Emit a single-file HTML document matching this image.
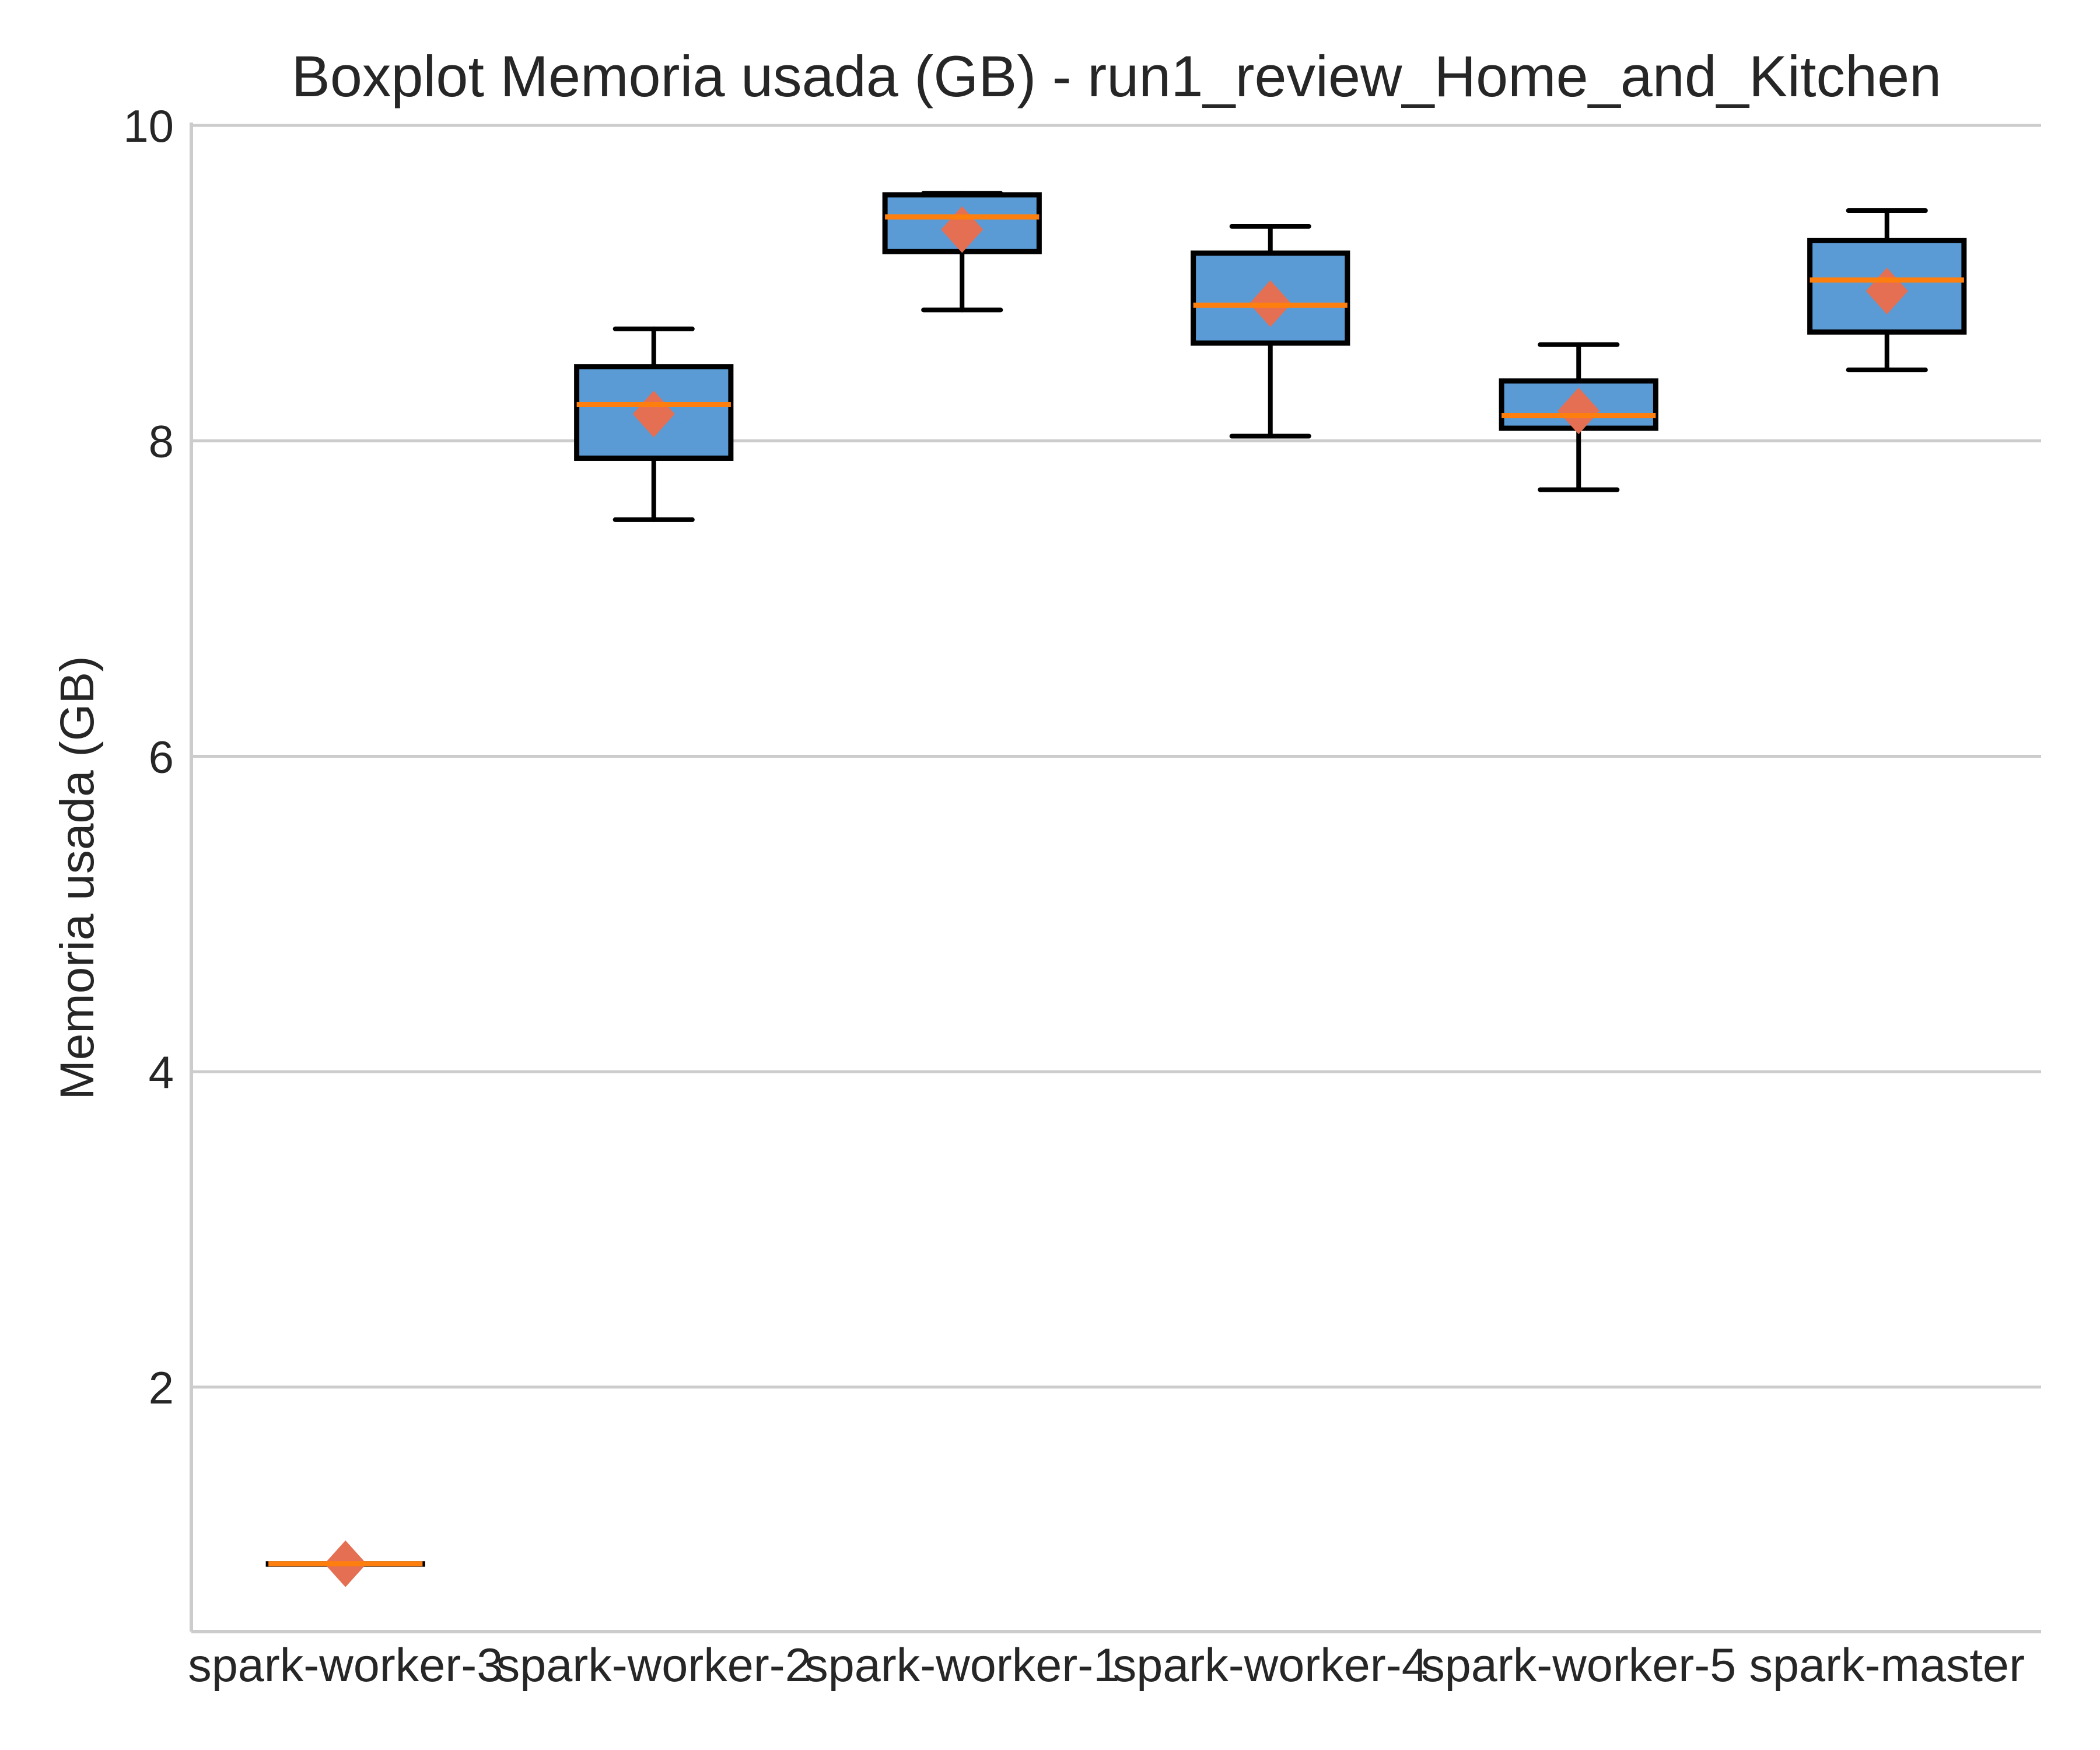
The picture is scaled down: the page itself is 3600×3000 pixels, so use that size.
<!DOCTYPE html>
<html><head><meta charset="utf-8"><style>
html,body{margin:0;padding:0;background:#fff}
svg{display:block}
text{font-family:"Liberation Sans",Arial,sans-serif;fill:#262626}
</style></head><body>
<svg id="chart" width="3600" height="3000" viewBox="0 0 3600 3000">
<text x="1914" y="165" font-size="99" text-anchor="middle">Boxplot Memoria usada (GB) - run1_review_Home_and_Kitchen</text>
<text transform="translate(160,1505) rotate(-90)" font-size="82" text-anchor="middle">Memoria usada (GB)</text>
<g id="grid"></g>
<g id="axes"></g>
<g id="boxes"></g>
<g id="xlabels"></g>
</svg>
<script>
const categories = ["spark-worker-3","spark-worker-2","spark-worker-1","spark-worker-4","spark-worker-5","spark-master"];
const whiskerLow = [0.88, 7.50, 8.83, 8.03, 7.69, 8.45];
const q1 = [0.88, 7.89, 9.20, 8.62, 8.08, 8.69];
const medians = [0.88, 8.23, 9.42, 8.86, 8.16, 9.02];
const q3 = [0.88, 8.47, 9.56, 9.19, 8.38, 9.27];
const whiskerHigh = [0.88, 8.71, 9.57, 9.36, 8.61, 9.46];
const means = [0.88, 8.17, 9.34, 8.87, 8.19, 8.95];
const yTicks = [2, 4, 6, 8, 10];
const yMin = 0.45, yMax = 10;

const NS = "http://www.w3.org/2000/svg";
const L = 328, R = 3499, T = 215, B = 2797;
const y = v => T + (yMax - v) * (B - T) / (yMax - yMin);
const x = i => L + (i + 0.5) * (R - L) / categories.length;
const halfBox = 0.25 * (R - L) / categories.length;
function mk(parent, tag, attrs) {
  const e = document.createElementNS(NS, tag);
  for (const k in attrs) e.setAttribute(k, attrs[k]);
  parent.appendChild(e);
  return e;
}
const grid = document.getElementById('grid');
yTicks.forEach(t => {
  const g = mk(grid, 'line', {x1: L, x2: R, y1: y(t), y2: y(t), stroke: '#cccccc', 'stroke-width': 5});
  
  
  const tx = mk(grid, 'text', {x: 298, y: y(t) + 28, 'font-size': 78, 'text-anchor': 'end'});
  tx.textContent = t;
  
  
});
const axes = document.getElementById('axes');
const la = mk(axes, 'line', {x1: L, x2: L, y1: T - 5, y2: B, stroke: '#cccccc', 'stroke-width': 6});


const ba = mk(axes, 'line', {x1: L, x2: R, y1: B, y2: B, stroke: '#cccccc', 'stroke-width': 6});



const boxes = document.getElementById('boxes');
const xl = document.getElementById('xlabels');
categories.forEach((c, i) => {
  const cx = x(i);
  const g = mk(boxes, 'g', {});
  
  
  const ws = {stroke: '#000', 'stroke-width': 8, 'stroke-linecap': 'round'};
  mk(g, 'line', Object.assign({x1: cx, x2: cx, y1: y(whiskerHigh[i]), y2: y(q3[i])}, ws));
  mk(g, 'line', Object.assign({x1: cx, x2: cx, y1: y(q1[i]), y2: y(whiskerLow[i])}, ws));
  mk(g, 'line', Object.assign({x1: cx - halfBox / 2, x2: cx + halfBox / 2, y1: y(whiskerHigh[i]), y2: y(whiskerHigh[i])}, ws));
  mk(g, 'line', Object.assign({x1: cx - halfBox / 2, x2: cx + halfBox / 2, y1: y(whiskerLow[i]), y2: y(whiskerLow[i])}, ws));
  mk(g, 'rect', {x: cx - halfBox, y: y(q3[i]), width: 2 * halfBox, height: Math.max(0.5, y(q1[i]) - y(q3[i])), fill: '#5b9bd5', stroke: '#000', 'stroke-width': 9});
  const md = y(means[i]);
  mk(g, 'polygon', {points: `${cx},${md - 40} ${cx + 36},${md} ${cx},${md + 40} ${cx - 36},${md}`, fill: '#e46f52'});
  mk(g, 'line', {x1: cx - halfBox, x2: cx + halfBox, y1: y(medians[i]), y2: y(medians[i]), stroke: '#ff7f0e', 'stroke-width': 9});
  const t = mk(xl, 'text', {x: cx, y: 2882, 'font-size': 81, 'text-anchor': 'middle'});
  t.textContent = c;
  
  
});
</script>
</body></html>
